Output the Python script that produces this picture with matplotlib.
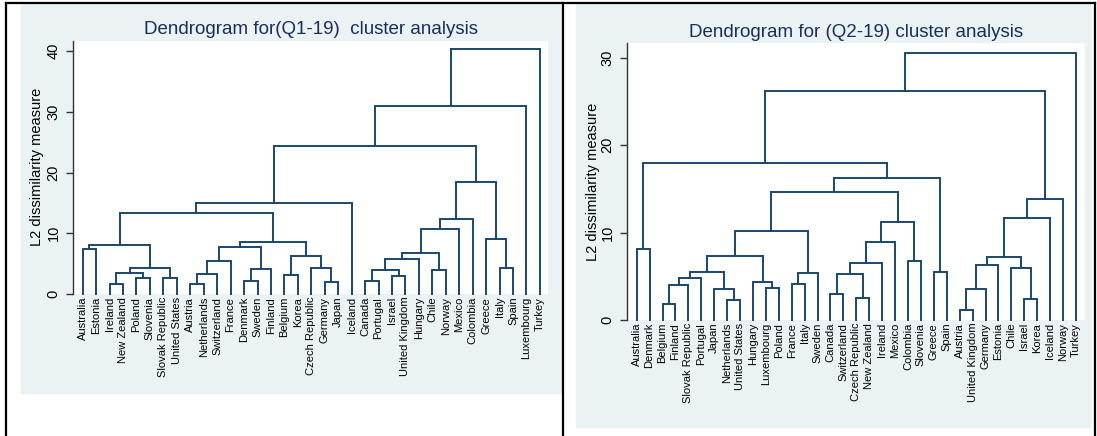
import matplotlib
matplotlib.use("Agg")
import matplotlib.pyplot as plt
from matplotlib.lines import Line2D
from matplotlib.patches import Rectangle

plt.rcParams["font.family"] = ["Liberation Sans", "DejaVu Sans"]

NAVY = "#1a476f"
PANEL = "#eaf2f3"
TITLE = "#1c2d5a"

# leaf order as drawn, left to right
q1_leaves = ["Australia", "Estonia", "Ireland", "New Zealand", "Poland", "Slovenia",
             "Slovak Republic", "United States", "Austria", "Netherlands", "Switzerland",
             "France", "Denmark", "Sweden", "Finland", "Belgium", "Korea", "Czech Republic",
             "Germany", "Japan", "Iceland", "Canada", "Portugal", "Israel", "United Kingdom",
             "Hungary", "Chile", "Norway", "Mexico", "Colombia", "Greece", "Italy", "Spain",
             "Luxembourg", "Turkey"]

# merges: (left, right, height); ints point at an earlier merge
q1_merges = [
    ("Australia", "Estonia", 7.4),          # 0
    ("Ireland", "New Zealand", 1.6),        # 1
    ("Poland", "Slovenia", 2.7),            # 2
    (1, 2, 3.4),                            # 3
    ("Slovak Republic", "United States", 2.7),  # 4
    (3, 4, 4.2),                            # 5
    (0, 5, 8.0),                            # 6
    ("Austria", "Netherlands", 1.65),       # 7
    (7, "Switzerland", 3.3),                # 8
    (8, "France", 5.5),                     # 9
    ("Denmark", "Sweden", 2.1),             # 10
    (10, "Finland", 4.1),                   # 11
    (9, 11, 7.75),                          # 12
    ("Belgium", "Korea", 3.1),              # 13
    ("Germany", "Japan", 1.9),              # 14
    ("Czech Republic", 14, 4.2),            # 15
    (13, 15, 6.3),                          # 16
    (12, 16, 8.6),                          # 17
    (6, 17, 13.4),                          # 18
    (18, "Iceland", 15.0),                  # 19
    ("Canada", "Portugal", 2.1),            # 20
    ("Israel", "United Kingdom", 3.0),      # 21
    (20, 21, 4.0),                          # 22
    (22, "Hungary", 5.7),                   # 23
    ("Chile", "Norway", 4.0),               # 24
    (23, 24, 6.7),                          # 25
    (25, "Mexico", 10.7),                   # 26
    (26, "Colombia", 12.4),                 # 27
    ("Italy", "Spain", 4.35),               # 28
    ("Greece", 28, 9.0),                    # 29
    (27, 29, 18.4),                         # 30
    (19, 30, 24.3),                         # 31
    (31, "Luxembourg", 30.9),               # 32
    (32, "Turkey", 40.4),                   # 33
]
q1_ticks = [0, 10, 20, 30, 40]

q2_leaves = ["Australia", "Denmark", "Belgium", "Finland", "Slovak Republic", "Portugal",
             "Japan", "Netherlands", "United States", "Hungary", "Luxembourg", "Poland",
             "France", "Italy", "Sweden", "Canada", "Switzerland", "Czech Republic",
             "New Zealand", "Ireland", "Mexico", "Colombia", "Slovenia", "Greece", "Spain",
             "Austria", "United Kingdom", "Germany", "Estonia", "Chile", "Israel", "Korea",
             "Iceland", "Norway", "Turkey"]

q2_merges = [
    ("Australia", "Denmark", 8.1),          # 0
    ("Belgium", "Finland", 1.85),           # 1
    (1, "Slovak Republic", 3.95),           # 2
    (2, "Portugal", 4.8),                   # 3
    ("Netherlands", "United States", 2.3),  # 4
    ("Japan", 4, 3.6),                      # 5
    (3, 5, 5.5),                            # 6
    ("Luxembourg", "Poland", 3.65),         # 7
    ("Hungary", 7, 4.4),                    # 8
    (6, 8, 7.3),                            # 9
    ("France", "Italy", 4.1),               # 10
    (10, "Sweden", 5.4),                    # 11
    (9, 11, 10.15),                         # 12
    ("Canada", "Switzerland", 3.0),         # 13
    ("Czech Republic", "New Zealand", 2.5), # 14
    (13, 14, 5.3),                          # 15
    (15, "Ireland", 6.55),                  # 16
    (16, "Mexico", 8.95),                   # 17
    ("Colombia", "Slovenia", 6.75),         # 18
    (17, 18, 11.2),                         # 19
    (12, 19, 14.6),                         # 20
    ("Greece", "Spain", 5.5),               # 21
    (20, 21, 16.3),                         # 22
    (0, 22, 18.0),                          # 23
    ("Austria", "United Kingdom", 1.15),    # 24
    (24, "Germany", 3.5),                   # 25
    (25, "Estonia", 6.3),                   # 26
    ("Israel", "Korea", 2.4),               # 27
    ("Chile", 27, 5.9),                     # 28
    (26, 28, 7.2),                          # 29
    (29, "Iceland", 11.7),                  # 30
    (30, "Norway", 13.8),                   # 31
    (23, 31, 26.15),                        # 32
    (32, "Turkey", 30.55),                  # 33
]
q2_ticks = [0, 10, 20, 30]


def draw_dendrogram(ax, leaves, merges):
    pos = {name: i for i, name in enumerate(leaves)}
    nodes = []

    def where(ref):
        if isinstance(ref, str):
            return pos[ref], 0.0
        return nodes[ref]

    for a, b, h in merges:
        xa, ha = where(a)
        xb, hb = where(b)
        ax.plot([xa, xa, xb, xb], [ha, h, h, hb], color=NAVY, lw=1.4,
                solid_joinstyle="miter", clip_on=False)
        nodes.append(((xa + xb) / 2, h))

    ax.set_xticks(range(len(leaves)))
    ax.set_xticklabels(leaves, rotation=90, fontsize=8)
    ax.tick_params(axis="x", length=0, pad=2)


def setup_axis(ax, ticks, top, title, title_y, ylabel_x):
    ax.set_facecolor("white")
    for side in ["top", "right", "bottom"]:
        ax.spines[side].set_visible(False)
    ax.spines["left"].set_color("#333333")
    ax.spines["left"].set_linewidth(1.0)
    ax.set_ylim(0, top)
    ax.set_yticks(ticks)
    ax.set_yticklabels([str(t) for t in ticks], rotation=90, va="center", fontsize=10.5)
    ax.tick_params(axis="y", length=5, width=1.0, color="#333333", pad=4)
    ax.set_ylabel("L2 dissimilarity measure", fontsize=10.5)
    ax.yaxis.set_label_coords(ylabel_x, 0.5)
    ax.set_title(title, fontsize=13.5, color=TITLE, y=title_y, pad=0)


fig = plt.figure(figsize=(10.97, 4.36), dpi=100)

# grey panels behind each graph
fig.patches.append(Rectangle((21 / 1097, 1 - 393 / 436), 540 / 1097, 389 / 436,
                             transform=fig.transFigure, color=PANEL, zorder=-5))
fig.patches.append(Rectangle((576 / 1097, 1 - 427 / 436), 514 / 1097, 423 / 436,
                             transform=fig.transFigure, color=PANEL, zorder=-5))

ax1 = fig.add_axes([73 / 1097, 1 - 294 / 436, 475 / 1097, 253.3 / 436])
draw_dendrogram(ax1, q1_leaves, q1_merges)
ax1.set_xlim(-0.72, 34.6)
setup_axis(ax1, q1_ticks, 41.7, "Dendrogram for(Q1-19)  cluster analysis", 1.026, -0.062)

ax2 = fig.add_axes([627 / 1097, 1 - 320 / 436, 458 / 1097, 277 / 436])
draw_dendrogram(ax2, q2_leaves, q2_merges)
ax2.set_xlim(-0.75, 34.7)
setup_axis(ax2, q2_ticks, 31.7, "Dendrogram for (Q2-19) cluster analysis", 1.022, -0.058)

# black frame lines
for xs, ys in [([6, 6], [3, 436]), ([6, 1095], [3, 3]), ([563, 563], [3, 436]),
               ([1095, 1095], [3, 436])]:
    fig.lines.append(Line2D([x / 1097 for x in xs], [1 - y / 436 for y in ys],
                            transform=fig.transFigure, color="black", lw=1.6))

fig.savefig("out.png", dpi=100)
